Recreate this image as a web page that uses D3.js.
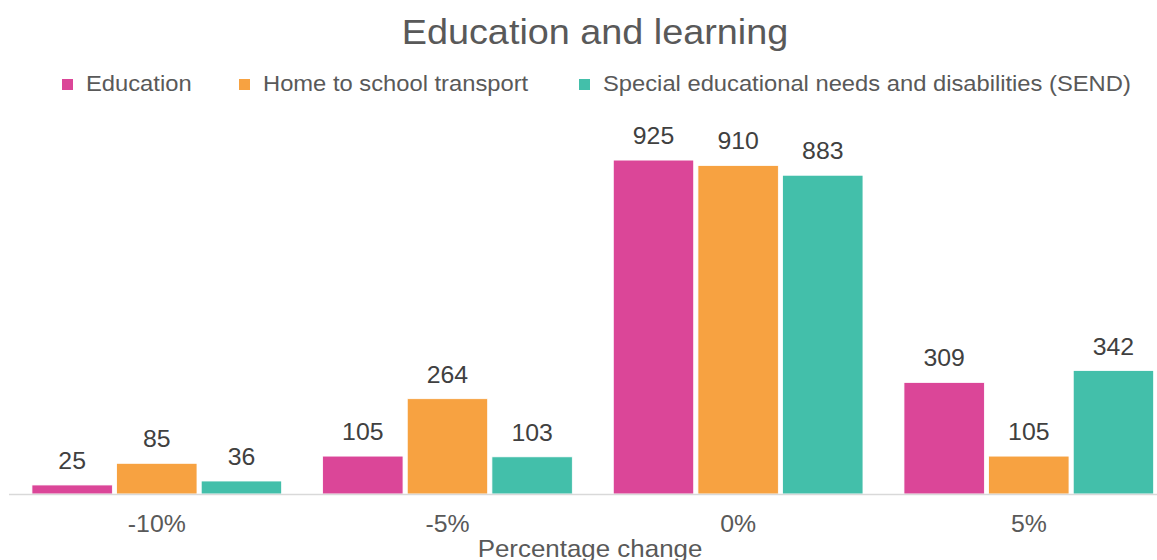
<!DOCTYPE html>
<html>
<head>
<meta charset="utf-8">
<script src="https://cdn.jsdelivr.net/npm/d3@7"></script>
<style>
    body { margin: 0; background: #fff; }
    text { font-family: "Liberation Sans", Arial, sans-serif; }
</style>
</head>
<body>
<div id="chart"></div>
<script>
(function() {
    // Data
    var categories = ["-10%", "-5%", "0%", "5%"];
    var seriesNames = ["Education", "Home to school transport", "Special educational needs and disabilities (SEND)"];
    var education = [25, 105, 925, 309];
    var transport = [85, 264, 910, 105];
    var send = [36, 103, 883, 342];
    var colors = ["#DB4698", "#F7A241", "#43BFAA"];

    var width = 1157, height = 560;
    var baseline = 494;
    var stretch = 1.08; // text in the source is a bit wide

    var svg = d3.select("#chart")
        .append("svg")
        .attr("width", width)
        .attr("height", height);

    var place = function(x, y) {
        return "translate(" + x + "," + y + ") scale(" + stretch + ",1)";
    };

    // Build rows from the arrays
    var values = [education, transport, send];
    var rows = categories.map(function(c, i) {
        return { cat: c, vals: values.map(function(v, s) { return { series: s, value: v[i] }; }) };
    });

    // Scales
    var x0 = d3.scaleBand()
        .domain(categories)
        .range([11.6, 1174])
        .paddingInner(0.141)
        .paddingOuter(0.07);

    var x1 = d3.scaleBand()
        .domain(d3.range(seriesNames.length))
        .range([0, x0.bandwidth()])
        .paddingInner(0.05)
        .paddingOuter(0);

    var y = d3.scaleLinear()
        .domain([0, 1000])
        .range([baseline, 133]);

    // Title
    svg.append("text")
        .attr("transform", place(595, 44))
        .attr("text-anchor", "middle")
        .attr("fill", "#595959")
        .style("font-size", "35px")
        .text("Education and learning");

    // Legend
    var legendX = [62, 239, 579];
    var legend = svg.selectAll(".legend")
        .data(seriesNames)
        .enter().append("g")
        .attr("class", "legend")
        .attr("transform", function(d, i) { return "translate(" + legendX[i] + ",0)"; });

    legend.append("rect")
        .attr("x", 0)
        .attr("y", 79)
        .attr("width", 11)
        .attr("height", 11)
        .attr("fill", function(d, i) { return colors[i]; });

    legend.append("text")
        .attr("transform", place(24, 91))
        .attr("fill", "#595959")
        .style("font-size", "22px")
        .text(function(d) { return d; });

    // Bars
    var groups = svg.selectAll(".group")
        .data(rows)
        .enter().append("g")
        .attr("class", "group")
        .attr("transform", function(d) { return "translate(" + x0(d.cat) + ",0)"; });

    groups.selectAll("rect")
        .data(function(d) { return d.vals; })
        .enter().append("rect")
        .attr("x", function(d) { return x1(d.series); })
        .attr("width", x1.bandwidth())
        .attr("y", function(d) { return y(d.value); })
        .attr("height", function(d) { return baseline - y(d.value); })
        .attr("fill", function(d) { return colors[d.series]; })
        .attr("stroke", "#fff")
        .attr("stroke-width", 0.8);

    groups.selectAll(".label")
        .data(function(d) { return d.vals; })
        .enter().append("text")
        .attr("class", "label")
        .attr("transform", function(d) { return place(x1(d.series) + x1.bandwidth() / 2, y(d.value) - 16); })
        .attr("text-anchor", "middle")
        .attr("fill", "#404040")
        .style("font-size", "23px")
        .text(function(d) { return d.value; });

    // Axis line
    svg.append("line")
        .attr("x1", 9)
        .attr("x2", width)
        .attr("y1", baseline + 0.5)
        .attr("y2", baseline + 0.5)
        .attr("stroke", "#D9D9D9")
        .attr("stroke-width", 1.5);

    // X tick labels
    svg.selectAll(".xlabel")
        .data(categories)
        .enter().append("text")
        .attr("class", "xlabel")
        .attr("transform", function(d) { return place(x0(d) + x0.bandwidth() / 2, 532); })
        .attr("text-anchor", "middle")
        .attr("fill", "#595959")
        .style("font-size", "23px")
        .text(function(d) { return d; });

    // X axis title
    svg.append("text")
        .attr("transform", place(590, 557))
        .attr("text-anchor", "middle")
        .attr("fill", "#595959")
        .style("font-size", "24px")
        .text("Percentage change");
})();
</script>
</body>
</html>
